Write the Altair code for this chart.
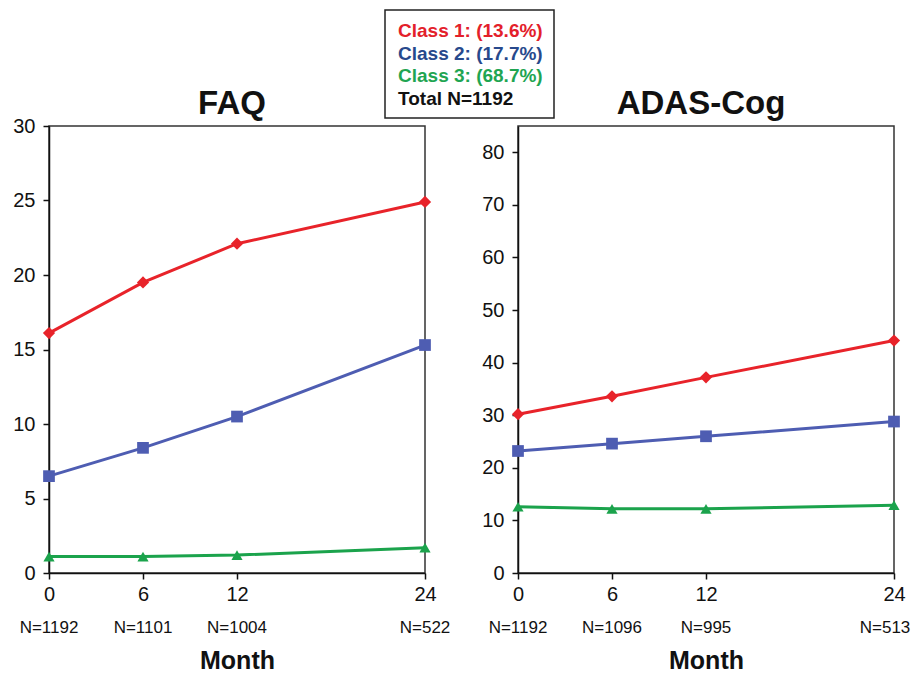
import altair as alt
import pandas as pd

months = [0, 6, 12, 24]
classes = ["Class 1", "Class 2", "Class 3"]
class_colors = ["#E8232A", "#4E5DB2", "#1BA34C"]
class_shapes = ["diamond", "square", "triangle-up"]
class_sizes = [150, 125, 150]

faq_c1 = [16.1, 19.5, 22.1, 24.9]
faq_c2 = [6.5, 8.4, 10.5, 15.3]
faq_c3 = [1.1, 1.1, 1.2, 1.7]
faq_n = ["N=1192", "N=1101", "N=1004", "N=522"]

adas_c1 = [30.2, 33.6, 37.2, 44.2]
adas_c2 = [23.2, 24.6, 26.0, 28.8]
adas_c3 = [12.6, 12.2, 12.2, 12.9]
adas_n = ["N=1192", "N=1096", "N=995", "N=513"]

legend_lines = ["Class 1: (13.6%)", "Class 2: (17.7%)", "Class 3: (68.7%)", "Total N=1192"]
legend_colors = ["#E3202A", "#27498C", "#1FA552", "#111111"]

FONT = "Liberation Sans"
W, H = 376, 447


def panel(title, c1, c2, c3, nlabels, ymax, yticks, with_legend=False, last_dx=0):
    rows = []
    for cls, vals in zip(classes, [c1, c2, c3]):
        for m, v in zip(months, vals):
            rows.append({"month": m, "value": v, "cls": cls})
    df = pd.DataFrame(rows)
    ndf = pd.DataFrame({"month": months, "n": nlabels})
    one = pd.DataFrame({"k": [0]})

    x = alt.X("month:Q", scale=alt.Scale(domain=[0, 24], nice=False, zero=False),
              axis=alt.Axis(values=months, title="Month", grid=False, tickSize=6,
                            labelPadding=5, labelFlush=False, titlePadding=44, titleFontSize=25,
                            titleFontWeight="bold", titleFont=FONT))
    y = alt.Y("value:Q", scale=alt.Scale(domain=[0, ymax], nice=False),
              axis=alt.Axis(values=yticks, title=None, grid=False, tickSize=6, labelPadding=8,
                            labelFlush=False))
    color = alt.Color("cls:N", scale=alt.Scale(domain=classes, range=class_colors), legend=None)
    shape = alt.Shape("cls:N", scale=alt.Scale(domain=classes, range=class_shapes), legend=None)
    size = alt.Size("cls:N", scale=alt.Scale(domain=classes, range=class_sizes), legend=None)

    base = alt.Chart(df)
    lines = base.mark_line(strokeWidth=3).encode(x=x, y=y, color=color, detail="cls:N")
    pts = base.mark_point(filled=True, opacity=1).encode(x=x, y=y, color=color, shape=shape, size=size)
    ntext = alt.Chart(ndf.iloc[:-1]).mark_text(fontSize=17, font=FONT, baseline="middle", color="#111").encode(
        x=x, y=alt.value(H + 55), text="n:N")
    ntext_last = alt.Chart(ndf.iloc[-1:]).mark_text(fontSize=17, font=FONT, baseline="middle", color="#111",
                                                    dx=last_dx).encode(
        x=x, y=alt.value(H + 55), text="n:N")
    ttl = alt.Chart(one).mark_text(fontSize=33, fontWeight="bold", font=FONT, color="#111",
                                   align="center", baseline="alphabetic", text=title).encode(
        x=alt.value(W / 2 - 5), y=alt.value(-12))

    layers = [lines, pts, ntext, ntext_last, ttl]
    if with_legend:
        box = alt.Chart(one).mark_rect(fill="white", stroke="#222", strokeWidth=1.5).encode(
            x=alt.value(336), x2=alt.value(505), y=alt.value(-116), y2=alt.value(-8))
        layers.append(box)
        for i, (txt, col) in enumerate(zip(legend_lines, legend_colors)):
            t = alt.Chart(one).mark_text(align="left", baseline="middle", fontSize=19,
                                         fontWeight="bold", font=FONT, color=col, text=txt).encode(
                x=alt.value(349), y=alt.value(-95 + i * 22.6))
            layers.append(t)

    return alt.layer(*layers).properties(width=W, height=H)


left = panel("FAQ", faq_c1, faq_c2, faq_c3, faq_n, 30, [0, 5, 10, 15, 20, 25, 30], with_legend=True)
right = panel("ADAS-Cog", adas_c1, adas_c2, adas_c3, adas_n, 85, [0, 10, 20, 30, 40, 50, 60, 70, 80],
              last_dx=-9)

chart = alt.hconcat(left, right, spacing=93, bounds="flush").properties(
    padding={"left": 4, "top": 0, "right": 0, "bottom": 0}
).configure_view(stroke="#333", strokeWidth=1.5).configure_axis(
    labelFont=FONT, labelFontSize=20, labelColor="#111", domainColor="#111",
    tickColor="#111", domainWidth=1.5, tickWidth=1.5, titleColor="#111"
)

chart.save("out.html", embed_options={"renderer": "svg", "actions": False})
